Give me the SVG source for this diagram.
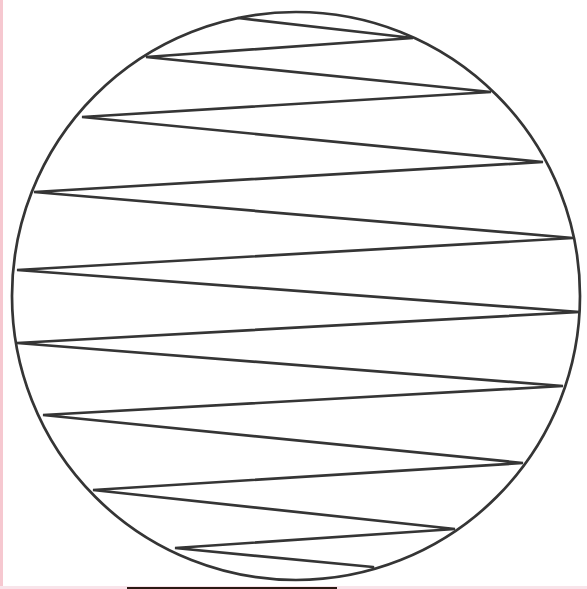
<svg xmlns="http://www.w3.org/2000/svg" width="587" height="589" viewBox="0 0 587 589">
<style>
.ln{fill:none;stroke:#353535;stroke-width:2.7;stroke-linejoin:miter;stroke-linecap:round}
</style>
<rect width="587" height="589" fill="#ffffff"/>
<rect x="0" y="0" width="3" height="589" fill="#f6c8d0"/>
<rect x="0" y="586" width="587" height="3" fill="#f8e4ea"/>
<rect x="127" y="587" width="210" height="2" fill="#2a1a14"/>
<g id="circle">
<circle class="ln" cx="296" cy="296" r="284"/>
</g>
<g id="connectors">
<polyline class="ln" points="238,18 413,38 146,57 491,92 82,117 543,162 34,192 573,238 17,270 580,312 17,343 563,386 43,415 523,463 93,490 455,529 175,548 373,567"/>
</g>
</svg>
